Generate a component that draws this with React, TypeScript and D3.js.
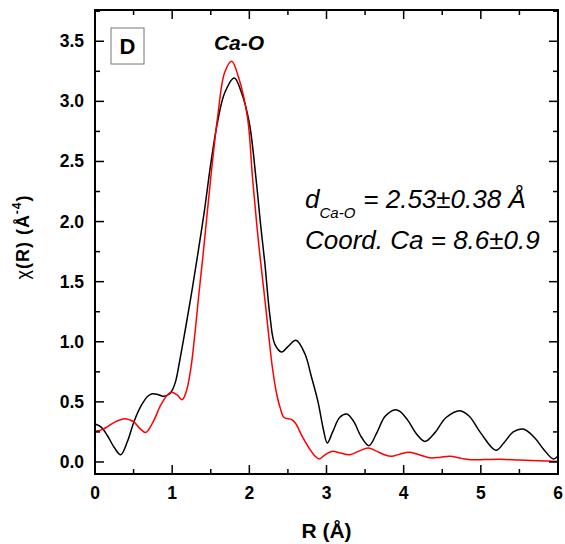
import React from "react";
import * as d3 from "d3";

const blackR = [0, 0.08, 0.16, 0.25, 0.333, 0.42, 0.505, 0.6, 0.68, 0.743, 0.82, 0.894, 0.95, 0.985, 1.04, 1.1, 1.17, 1.25, 1.33, 1.42, 1.5, 1.58, 1.68, 1.805, 1.9, 2.0, 2.086, 2.15, 2.2, 2.268, 2.33, 2.419, 2.5, 2.605, 2.72, 2.8, 2.89, 2.96, 3.01, 3.08, 3.17, 3.262, 3.35, 3.45, 3.55, 3.65, 3.76, 3.896, 3.952, 4.05, 4.17, 4.276, 4.4, 4.55, 4.73, 4.85, 5.0, 5.196, 5.3, 5.42, 5.55, 5.7, 5.82, 5.94, 6.0];
const blackChi = [0.316, 0.29, 0.22, 0.12, 0.06, 0.17, 0.335, 0.47, 0.545, 0.568, 0.56, 0.546, 0.56, 0.58, 0.66, 0.85, 1.1, 1.4, 1.72, 2.1, 2.48, 2.8, 3.07, 3.195, 3.07, 2.82, 2.36, 1.95, 1.66, 1.21, 0.98, 0.915, 0.96, 1.012, 0.9, 0.72, 0.5, 0.27, 0.158, 0.25, 0.37, 0.399, 0.34, 0.21, 0.136, 0.24, 0.38, 0.435, 0.421, 0.35, 0.23, 0.171, 0.24, 0.37, 0.427, 0.38, 0.24, 0.097, 0.16, 0.25, 0.274, 0.2, 0.1, 0.025, 0.05];

const redR = [0, 0.07, 0.14, 0.25, 0.389, 0.45, 0.505, 0.58, 0.657, 0.75, 0.85, 0.93, 0.985, 1.06, 1.13, 1.18, 1.24, 1.3, 1.35, 1.4, 1.49, 1.59, 1.68, 1.771, 1.86, 1.975, 2.043, 2.1, 2.147, 2.2, 2.25, 2.3, 2.35, 2.4, 2.45, 2.549, 2.6, 2.68, 2.78, 2.85, 2.907, 2.98, 3.07, 3.18, 3.3, 3.42, 3.54, 3.65, 3.75, 3.845, 3.95, 4.08, 4.2, 4.36, 4.48, 4.6, 4.75, 4.88, 5.05, 5.25, 5.5, 5.75, 6.0];
const redChi = [0.255, 0.265, 0.285, 0.33, 0.36, 0.35, 0.333, 0.28, 0.246, 0.33, 0.47, 0.55, 0.58, 0.56, 0.518, 0.58, 0.77, 1.1, 1.42, 1.72, 2.3, 2.875, 3.24, 3.333, 3.2, 2.87, 2.35, 1.95, 1.66, 1.36, 1.06, 0.78, 0.58, 0.45, 0.37, 0.352, 0.32, 0.22, 0.11, 0.05, 0.025, 0.06, 0.088, 0.075, 0.061, 0.09, 0.116, 0.09, 0.06, 0.047, 0.065, 0.08, 0.06, 0.033, 0.04, 0.047, 0.03, 0.019, 0.02, 0.022, 0.016, 0.01, 0.005];

const xTicks = [0, 1, 2, 3, 4, 5, 6];
const yTicks = [0, 0.5, 1.0, 1.5, 2.0, 2.5, 3.0, 3.5];

const W = 565, H = 544;
const L = 95, R = 558, T = 10, B = 474;

export default function App() {
  const x = d3.scaleLinear().domain([0, 6]).range([L, R]);
  const y = d3.scaleLinear().domain([-0.1, 3.76]).range([B, T]);
  const line = d3.line<[number, number]>().x(d => x(d[0])).y(d => y(d[1])).curve(d3.curveCatmullRom.alpha(0.5));
  const blackPath = line(blackR.map((r, i) => [r, blackChi[i]]) as [number, number][]) || "";
  const redPath = line(redR.map((r, i) => [r, redChi[i]]) as [number, number][]) || "";

  const xMinor = d3.range(0.5, 6, 1);
  const yMinor = d3.range(0.25, 3.76, 0.5);
  const font = "Arial, 'Liberation Sans', sans-serif";

  return (
    <svg width={W} height={H} style={{ position: "absolute", left: 0, top: 0 }} fontFamily={font}>
      <rect width={W} height={H} fill="#fff" />
      <defs>
        <clipPath id="plot"><rect x={L} y={T} width={R - L} height={B - T} /></clipPath>
      </defs>
      <g clipPath="url(#plot)" fill="none" strokeWidth={1.5}>
        <path d={blackPath} stroke="#000" />
        <path d={redPath} stroke="#ff0000" />
      </g>
      <g stroke="#000" strokeWidth={1.5}>
        {xTicks.map(t => (
          <g key={"xt" + t}>
            <line x1={x(t)} x2={x(t)} y1={B} y2={B - 9} />
            <line x1={x(t)} x2={x(t)} y1={T} y2={T + 9} />
          </g>
        ))}
        {xMinor.map(t => (
          <g key={"xm" + t}>
            <line x1={x(t)} x2={x(t)} y1={B} y2={B - 5} />
            <line x1={x(t)} x2={x(t)} y1={T} y2={T + 5} />
          </g>
        ))}
        {yTicks.map(t => (
          <g key={"yt" + t}>
            <line x1={L} x2={L + 9} y1={y(t)} y2={y(t)} />
            <line x1={R} x2={R - 9} y1={y(t)} y2={y(t)} />
          </g>
        ))}
        {yMinor.map(t => (
          <g key={"ym" + t}>
            <line x1={L} x2={L + 5} y1={y(t)} y2={y(t)} />
            <line x1={R} x2={R - 5} y1={y(t)} y2={y(t)} />
          </g>
        ))}
      </g>
      <rect x={L} y={T} width={R - L} height={B - T} fill="none" stroke="#000" strokeWidth={2} />
      <g fontSize={17.5} fontWeight="bold" fill="#000">
        {xTicks.map(t => (
          <text key={"xl" + t} x={x(t)} y={499} textAnchor="middle">{d3.format("d")(t)}</text>
        ))}
        {yTicks.map(t => (
          <text key={"yl" + t} x={84} y={y(t) + 6} textAnchor="end">{d3.format(".1f")(t)}</text>
        ))}
      </g>
      <text x={(L + R) / 2} y={538} textAnchor="middle" fontSize={21} fontWeight="bold">R (Å)</text>
      <text transform={`translate(29,237) rotate(-90)`} textAnchor="middle" fontSize={18} fontWeight="bold" letterSpacing={1}>
        <tspan fontWeight="normal">χ</tspan>(R) (Å<tspan dy={-8} fontSize={12}>-4</tspan><tspan dy={8}>)</tspan>
      </text>
      <rect x={111} y={28} width={33} height={36} fill="#fff" stroke="#777" strokeWidth={1} />
      <text x={127.5} y={54} textAnchor="middle" fontSize={22} fontWeight="bold">D</text>
      <text x={239} y={50} textAnchor="middle" fontSize={21} fontWeight="bold" fontStyle="italic">Ca-O</text>
      <text x={305} y={208} fontSize={26} fontStyle="italic">
        d<tspan fontSize={15} dy={10}>Ca-O</tspan><tspan dy={-10} dx={8}>= 2.53±0.38 Å</tspan>
      </text>
      <text x={305} y={249} fontSize={26} fontStyle="italic">Coord. Ca = 8.6±0.9</text>
    </svg>
  );
}
